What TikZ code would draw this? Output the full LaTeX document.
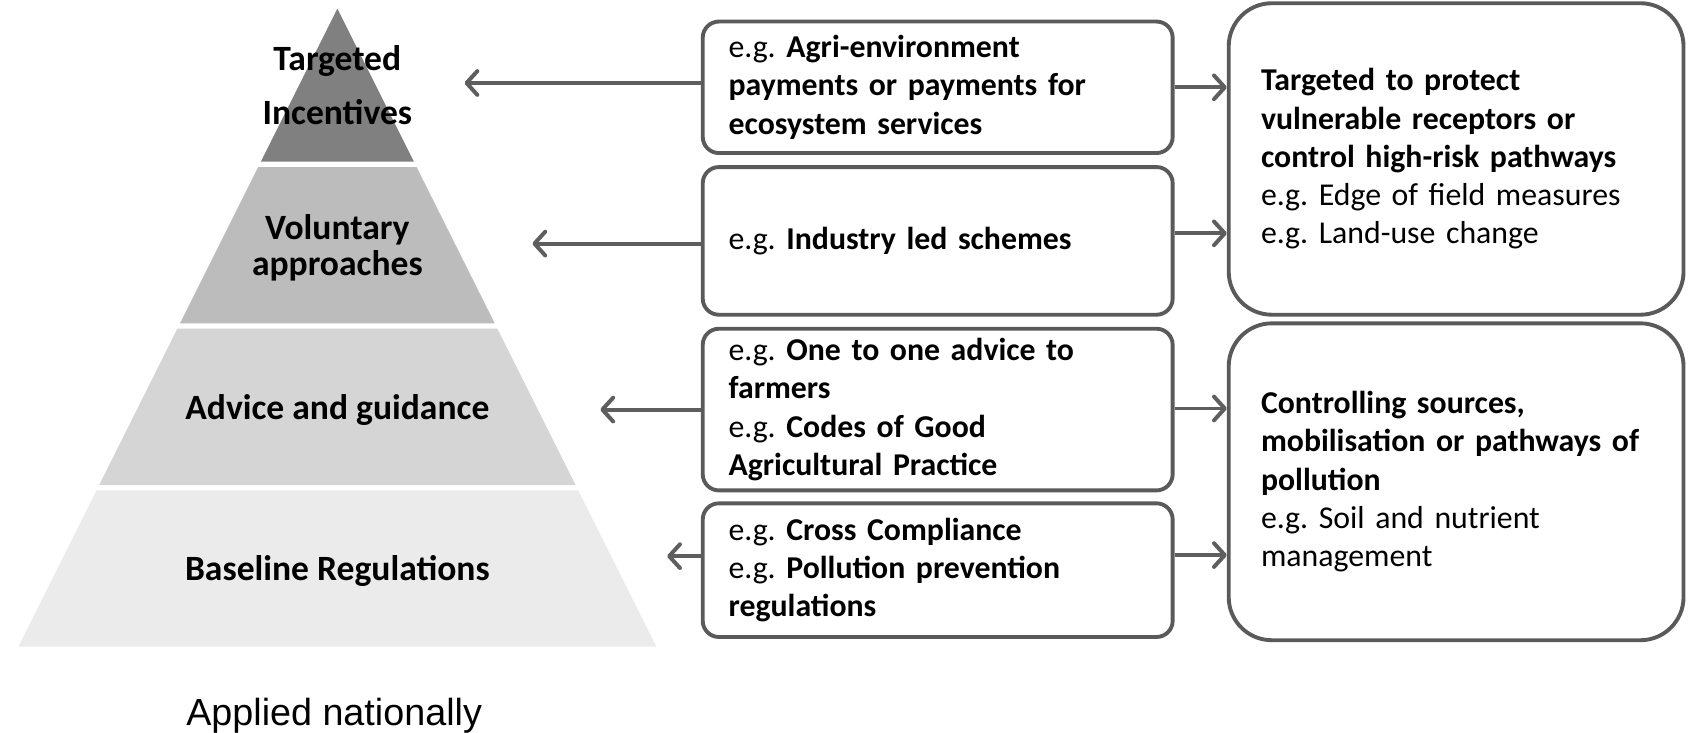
\documentclass[tikz,border=0pt]{standalone}
\usepackage{fontspec}
\setmainfont{Carlito}
\newfontfamily\arialfont{Liberation Sans}
\usetikzlibrary{positioning,arrows.meta}
\frenchspacing

\definecolor{tierA}{HTML}{808080}
\definecolor{tierB}{HTML}{BCBCBC}
\definecolor{tierC}{HTML}{D5D5D5}
\definecolor{tierD}{HTML}{EBEBEB}
\definecolor{edge}{HTML}{5A5A5A}
\definecolor{arrgray}{HTML}{5E5E5E}
\newcommand{\egfont}{\fontsize{14.75}{17.75}\selectfont}

\begin{document}
\begin{tikzpicture}[x=0.5pt,y=-0.5pt,
    lvl/.style={font=\fontsize{16.5}{17}\selectfont\bfseries,align=center,inner sep=0pt},
    egbox/.style={draw=edge,line width=1.8pt,rounded corners=7.5pt,text width=194pt,
        inner xsep=12pt,minimum height=#1,align=left,font=\egfont},
    aimbox/.style={draw=edge,line width=1.8pt,rounded corners=20pt,text width=181pt,
        inner xsep=15pt,minimum height=#1,align=left,font=\egfont},
    arr/.style={draw=arrgray,line width=1.85pt,-{Straight Barb[length=5pt,width=11pt,round]}}]
    \useasboundingbox (0,0) rectangle (1568,680);

    % kim tu thap 4 tang
    \foreach \ytop/\ybot/\shade in {8/150/tierA,155/300/tierB,305/450/tierC,455/600/tierD} {
        \fill[\shade] ({313-0.5*(\ytop-8)},\ytop) -- ({313+0.5*(\ytop-8)},\ytop)
            -- ({313+0.5*(\ybot-8)},\ybot) -- ({313-0.5*(\ybot-8)},\ybot) -- cycle;
    }

    % nhan cac tang
    \node[lvl] (incent) at (313,79) {Targeted\\[7.75pt]Incentives};
    \node[lvl] (volun) at (313,230) {Voluntary\\approaches};
    \node[lvl] (advice) at (313,380) {Advice and guidance};
    \node[lvl] (base) at (313,530) {Baseline Regulations};
    \node[font=\arialfont\fontsize{17.5}{19}\selectfont,inner sep=0pt] (natl) at (310,664) {Applied nationally};

    % hop vi du
    \node[egbox=61pt] (b1) at (870,81) {e.g. \textbf{Agri-environment}\\\textbf{payments or payments for}\\\textbf{ecosystem services}};
    \node[egbox=68.5pt] (b2) at (870,223.5) {e.g. \textbf{Industry led schemes}};
    \node[egbox=75pt] (b3) at (870,380) {e.g. \textbf{One to one advice to}\\\textbf{farmers}\\e.g. \textbf{Codes of Good}\\\textbf{Agricultural Practice}};
    \node[egbox=62pt] (b4) at (870,529) {e.g. \textbf{Cross Compliance}\\e.g. \textbf{Pollution prevention}\\\textbf{regulations}};

    % hop muc tieu
    \node[aimbox=144.5pt] (r1) at (1351,147.5) {\textbf{Targeted to protect}\\\textbf{vulnerable receptors or}\\\textbf{control high-risk pathways}\\e.g. Edge of field measures\\e.g. Land-use change};
    \node[aimbox=147pt] (r2) at (1351,447) {\textbf{Controlling sources,}\\\textbf{mobilisation or pathways of}\\\textbf{pollution}\\e.g. Soil and nutrient\\management};

    % diem mui ten
    \coordinate (t1) at (431,77);
    \coordinate (t2) at (494,226);
    \coordinate (t3) at (557,380);
    \coordinate (t4) at (619,516);
    \coordinate (h1) at (1110,81);
    \coordinate (h2) at (1110,216.5);
    \coordinate (h3) at (1110,379);
    \coordinate (h4) at (1110,515);

    \draw[arr] (b1.west |- t1) -- (t1);
    \draw[arr] (b2.west |- t2) -- (t2);
    \draw[arr] (b3.west |- t3) -- (t3);
    \draw[arr] (b4.west |- t4) -- (t4);
    \draw[arr] (b1.east |- h1) -- (r1.west |- h1);
    \draw[arr] (b2.east |- h2) -- (r1.west |- h2);
    \draw[arr] (b3.east |- h3) -- (r2.west |- h3);
    \draw[arr] (b4.east |- h4) -- (r2.west |- h4);
\end{tikzpicture}
\end{document}
